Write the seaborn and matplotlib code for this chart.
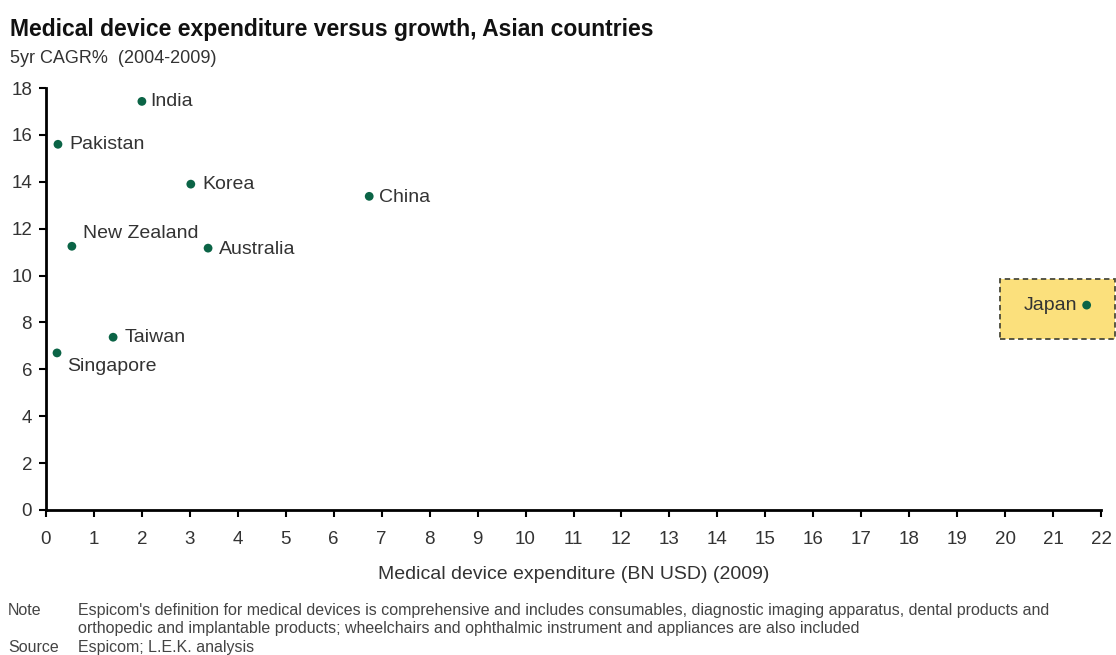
import matplotlib
matplotlib.use("Agg")
import matplotlib.pyplot as plt
from matplotlib.patches import Rectangle
import seaborn as sns
import pandas as pd

# Medical device spend (BN USD, 2009) and 5-year CAGR (%) by country
countries = ["India", "Pakistan", "Korea", "China", "New Zealand",
             "Australia", "Taiwan", "Singapore", "Japan"]
expenditure = [2.0, 0.25, 3.02, 6.74, 0.54, 3.38, 1.40, 0.23, 21.7]
cagr = [17.43, 15.6, 13.9, 13.38, 11.25, 11.17, 7.37, 6.7, 8.74]

# Label offsets in points (dx, dy) and horizontal alignment
label_offsets = {
    "India": (6, 0, "left"),
    "Pakistan": (8, 0, "left"),
    "Korea": (8, 0, "left"),
    "China": (7, -1, "left"),
    "New Zealand": (8, 9, "left"),
    "Australia": (8, -1, "left"),
    "Taiwan": (8, 0, "left"),
    "Singapore": (7, -10, "left"),
    "Japan": (-7, 0, "right"),
}

x_ticks = list(range(0, 23))
y_ticks = list(range(0, 19, 2))

df = pd.DataFrame({"country": countries, "expenditure": expenditure, "cagr": cagr})

sns.set_style("white")
plt.rcParams["font.family"] = ["Liberation Sans", "DejaVu Sans"]

fig = plt.figure(figsize=(11.16, 6.55), dpi=100)
ax = fig.add_axes([0.0412, 0.2214, 0.9454, 0.6442])

# Highlight box around Japan
ax.add_patch(Rectangle((19.9, 7.29), 22.29 - 19.9, 9.85 - 7.29,
                       facecolor="#fbe07c", edgecolor="#4a4a3a",
                       linestyle=(0, (3, 2)), linewidth=1.3,
                       clip_on=False, zorder=1))

sns.scatterplot(data=df, x="expenditure", y="cagr", ax=ax, color="#0b6446",
                s=40, edgecolor="none", zorder=3, clip_on=False)

text_color = "#333333"
for name, xv, yv in zip(countries, expenditure, cagr):
    dx, dy, ha = label_offsets[name]
    ax.annotate(name, (xv, yv), xytext=(dx, dy), textcoords="offset points",
                ha=ha, va="center", fontsize=14, color=text_color, zorder=4)

ax.set_xlim(0, 22)
ax.set_ylim(0, 18)
ax.set_xticks(x_ticks)
ax.set_yticks(y_ticks)
ax.tick_params(axis="both", direction="out", length=5, width=1.5, color="black",
               labelsize=13.5, labelcolor=text_color, bottom=True, left=True)
ax.tick_params(axis="x", pad=10)
ax.tick_params(axis="y", pad=5)

for side in ["top", "right"]:
    ax.spines[side].set_visible(False)
for side in ["left", "bottom"]:
    ax.spines[side].set_color("black")
    ax.spines[side].set_linewidth(2)

ax.set_xlabel("Medical device expenditure (BN USD) (2009)", fontsize=14,
              color=text_color, labelpad=13)
ax.set_ylabel("")

fig.text(0.009, 0.955, "Medical device expenditure versus growth, Asian countries",
         fontsize=16.5, fontweight="bold", color="#111111", ha="left", va="center")
fig.text(0.009, 0.911, "5yr CAGR%  (2004-2009)", fontsize=13,
         color=text_color, ha="left", va="center")

foot_color = "#444444"
foot_size = 11.5
fig.text(0.007, 0.068, "Note", fontsize=foot_size, color=foot_color, ha="left", va="center")
fig.text(0.070, 0.068,
         "Espicom's definition for medical devices is comprehensive and includes consumables, "
         "diagnostic imaging apparatus, dental products and",
         fontsize=foot_size, color=foot_color, ha="left", va="center")
fig.text(0.070, 0.040,
         "orthopedic and implantable products; wheelchairs and ophthalmic instrument "
         "and appliances are also included",
         fontsize=foot_size, color=foot_color, ha="left", va="center")
fig.text(0.007, 0.012, "Source", fontsize=foot_size, color=foot_color, ha="left", va="center")
fig.text(0.070, 0.012, "Espicom; L.E.K. analysis", fontsize=foot_size, color=foot_color,
         ha="left", va="center")

fig.savefig("out.png", dpi=100)
